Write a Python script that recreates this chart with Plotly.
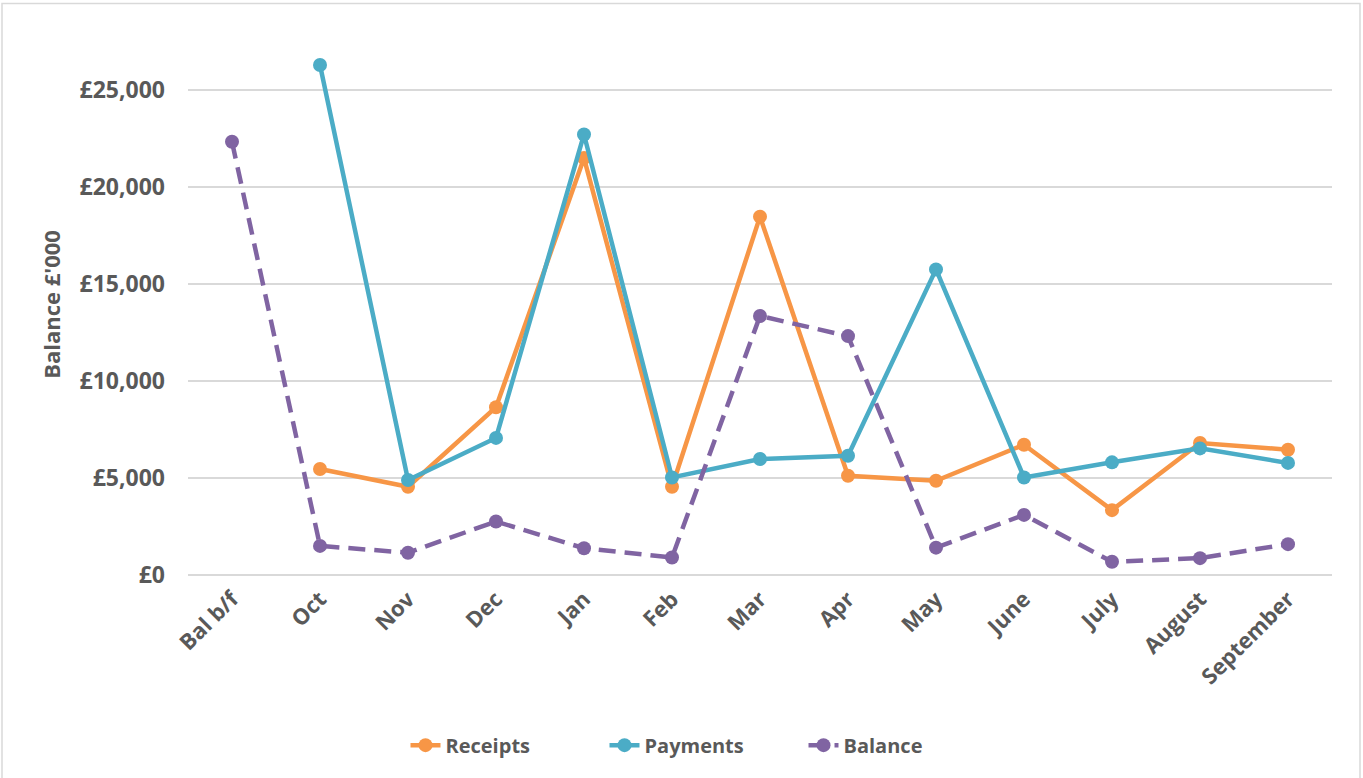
import plotly.graph_objects as go

categories = ["Bal b/f", "Oct", "Nov", "Dec", "Jan", "Feb", "Mar", "Apr",
              "May", "June", "July", "August", "September"]
receipts = [None, 5470, 4550, 8650, 21500, 4550, 18480, 5120, 4860, 6720, 3345, 6810, 6460]
payments = [None, 26300, 4900, 7070, 22720, 5030, 5980, 6150, 15760, 5030, 5810, 6530, 5780]
balance = [22340, 1500, 1150, 2760, 1380, 900, 13360, 12320, 1410, 3100, 680, 870, 1590]

y_tickvals = [0, 5000, 10000, 15000, 20000, 25000]
y_ticktext = ["£0", "£5,000", "£10,000", "£15,000", "£20,000", "£25,000"]

FONT = "Open Sans"
GREY = "#595959"

fig = go.Figure()
series = [
    ("Receipts", receipts, "#F79646", "solid"),
    ("Payments", payments, "#4BACC6", "solid"),
    ("Balance", balance, "#8064A2", "17px,9px"),
]
for name, vals, col, dash in series:
    fig.add_trace(go.Scatter(
        x=categories, y=vals, name=name, mode="lines+markers",
        line=dict(color=col, width=4.5, dash=dash),
        marker=dict(color=col, size=14),
        connectgaps=False,
    ))

W, H = 1363, 778
L, R, T, B = 188, 1332, 34.4, 575

fig.update_layout(
    width=W, height=H,
    margin=dict(l=L, r=W - R, t=T, b=H - B, autoexpand=False),
    paper_bgcolor="white", plot_bgcolor="white",
    font=dict(family=FONT, color=GREY),
    legend=dict(orientation="h", x=(704 - L) / (R - L), xanchor="center",
                y=(B - 745) / (B - T), yanchor="middle",
                font=dict(size=20, family=FONT, color=GREY, weight="bold"),
                entrywidth=154, entrywidthmode="pixels", tracegroupgap=0),
    shapes=[dict(type="rect", xref="paper", yref="paper",
                 x0=(2 - L) / (R - L), x1=(1360 - L) / (R - L),
                 y0=-0.5, y1=(B - 4) / (B - T),
                 line=dict(color="#d9d9d9", width=1.5), layer="below")],
)
fig.update_xaxes(
    type="category", range=[-0.5, len(categories) - 0.5],
    showgrid=False, showline=False, zeroline=False,
    tickangle=-45, ticks="", ticklabelstandoff=6,
    tickfont=dict(size=22, family=FONT, color=GREY, weight="bold"),
)
fig.update_yaxes(
    range=[0, 27900], tickvals=y_tickvals, ticktext=y_ticktext,
    showgrid=True, gridcolor="#d9d9d9", gridwidth=1.5,
    zeroline=True, zerolinecolor="#d9d9d9", zerolinewidth=1.5,
    showline=False, ticks="", ticklabelstandoff=22,
    tickfont=dict(size=23, family=FONT, color=GREY, weight="bold"),
    title=dict(text="Balance £'000", standoff=12,
               font=dict(size=22, family=FONT, color=GREY, weight="bold")),
)

fig.write_html("out.html", config={"displayModeBar": False},
               post_script="document.body.style.margin='0';document.body.style.overflow='hidden';")
